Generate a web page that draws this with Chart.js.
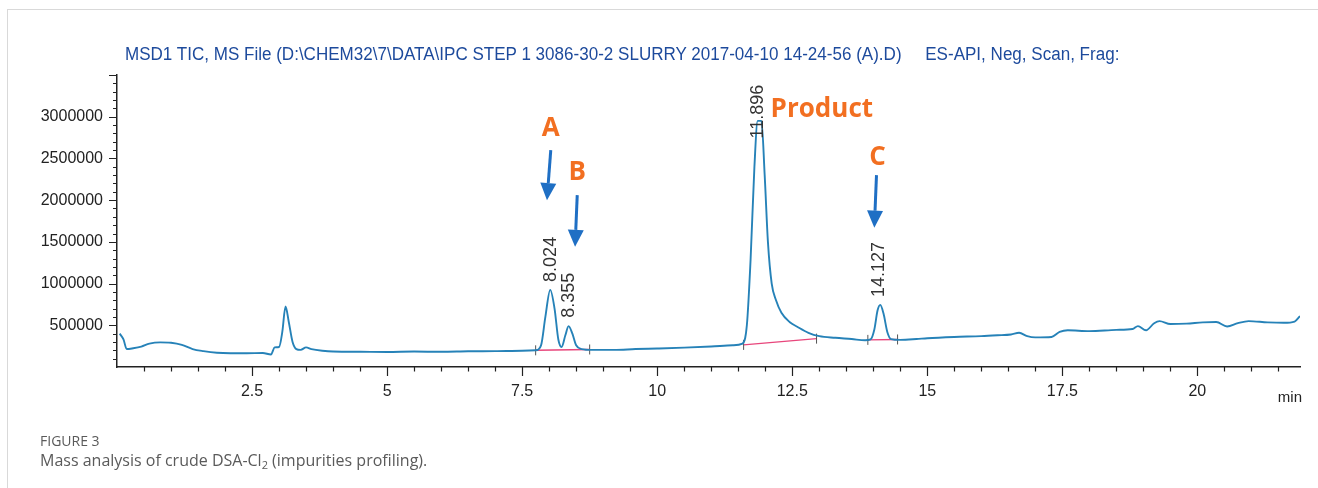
<!DOCTYPE html>
<html>
<head>
<meta charset="utf-8">
<script src="https://cdn.jsdelivr.net/npm/chart.js@4.4.1/dist/chart.umd.min.js"></script>
<style>
    html, body { margin: 0; padding: 0; background: #fff; }
    body { width: 1318px; height: 488px; position: relative; overflow: hidden; }
    .card { position: absolute; left: 7px; top: 9px; width: 1340px; height: 520px;
            border-top: 1px solid #d9d9d9; border-left: 1px solid #d9d9d9; }
    #chart { position: absolute; left: 0; top: 0; }
    .run-title { position: absolute; left: 125px; top: 44px; white-space: pre;
                 font-family: 'Liberation Sans Narrow', 'Liberation Sans', Arial, sans-serif;
                 font-size: 18px; color: #1d4a9c; transform-origin: 0 0; }
    .fig-label { position: absolute; left: 40px; top: 431px; font-family: 'Open Sans', sans-serif;
                 font-size: 14px; color: #5a5a5a; }
    .fig-caption { position: absolute; left: 40px; top: 449px; font-family: 'Open Sans', sans-serif;
                   font-size: 16px; color: #5a5a5a; white-space: nowrap; }
    .fig-caption sub { font-size: 11px; vertical-align: -3px; }
</style>
</head>
<body>
<div class="card"></div>
<canvas id="chart" width="1318" height="488"></canvas>
<div class="run-title" id="runTitle">MSD1 TIC, MS File (D:\CHEM32\7\DATA\IPC STEP 1 3086-30-2 SLURRY 2017-04-10 14-24-56 (A).D)     ES-API, Neg, Scan, Frag:</div>
<div class="fig-label">FIGURE 3</div>
<div class="fig-caption">Mass analysis of crude DSA-Cl<sub>2</sub> (impurities profiling).</div>

<script>
// TIC trace (time in min, abundance)
const retentionTimes = [
    0.05, 0.12, 0.18, 0.3, 0.45, 0.6, 0.8, 1.0, 1.2, 1.4, 1.6, 1.85, 2.1, 2.4, 2.7, 2.85, 2.92, 3.0,
    3.06, 3.12, 3.18, 3.25, 3.32, 3.4, 3.5, 3.6, 3.8, 4.0, 4.5, 5.0, 5.5, 6.0, 6.5, 7.0, 7.5, 7.75,
    7.85, 7.93, 8.02, 8.1, 8.17, 8.23, 8.3, 8.36, 8.43, 8.5, 8.6, 8.8, 9.2, 9.6, 10.0, 10.5, 11.0,
    11.4, 11.58, 11.66, 11.73, 11.8, 11.86, 11.93, 11.99, 12.05, 12.12, 12.2, 12.3, 12.45, 12.6,
    12.8, 13.0, 13.3, 13.6, 13.85, 13.95, 14.02, 14.08, 14.13, 14.19, 14.26, 14.33, 14.5, 14.8,
    15.0, 15.5, 16.0, 16.3, 16.55, 16.7, 16.85, 17.0, 17.3, 17.45, 17.6, 18.0, 18.5, 18.8, 18.9,
    19.05, 19.2, 19.3, 19.5, 19.8, 20.1, 20.35, 20.55, 20.75, 20.95, 21.3, 21.6, 21.8, 21.9
];
const intensities = [
    400000, 330000, 215000, 225000, 245000, 280000, 295000, 290000, 265000, 215000, 190000, 170000, 165000, 165000, 168000, 150000, 235000, 240000,
    420000, 725000, 540000, 300000, 215000, 205000, 235000, 215000, 195000, 185000, 182000, 180000, 185000, 182000, 188000, 190000, 195000, 200000,
    260000, 600000, 925000, 700000, 330000, 240000, 380000, 490000, 400000, 260000, 215000, 205000, 205000, 215000, 222000, 232000, 245000,
    260000, 280000, 500000, 1300000, 2400000, 2950000, 2950000, 2300000, 1500000, 1000000, 800000, 650000, 540000, 480000,
    410000, 370000, 350000, 335000, 320000, 330000, 450000, 680000, 745000, 640000, 420000, 335000, 325000, 335000,
    345000, 360000, 370000, 380000, 390000, 410000, 370000, 355000, 360000, 420000, 440000, 430000, 445000, 455000, 490000,
    440000, 525000, 550000, 515000, 520000, 535000, 540000, 485000, 525000, 550000, 535000, 530000, 545000, 610000
];

// integration baselines (pink)
const baseStartX = [7.75, 11.6, 13.9];
const baseStartY = [200000, 265000, 325000];
const baseEndX = [8.75, 12.95, 14.45];
const baseEndY = [210000, 340000, 330000];

// retention time labels above the peaks
const peakLabels = ['8.024', '8.355', '11.896', '14.127'];
const peakLabelX = [8.04, 8.36, 11.86, 14.10];
const peakLabelY = [1020000, 590000, 2740000, 840000];

// orange annotations
const markerNames = ['A', 'B', 'Product', 'C'];
const markerX = [8.03, 8.52, 12.10, 14.08];
const markerY = [2860000, 2330000, 3090000, 2510000];

// blue arrows (A, B, C)
const arrowTopX = [8.03, 8.52, 14.06];
const arrowTopY = [2600000, 2060000, 2300000];
const arrowTipX = [7.96, 8.48, 14.02];
const arrowTipY = [2000000, 1440000, 1670000];

const xTickLabels = ['2.5', '5', '7.5', '10', '12.5', '15', '17.5', '20'];
const yTickLabels = ['500000', '1000000', '1500000', '2000000', '2500000', '3000000'];

const axisFont = "'Liberation Sans', Arial, sans-serif";

// fit the run title to its width in the picture
const runTitle = document.getElementById('runTitle');
runTitle.style.transform = 'scaleX(' + (994 / runTitle.offsetWidth) + ')';

/**
 * Axis tick marks, major and minor
 */
const tickMarks = {
    id: 'tickMarks',
    afterDraw(chart) {
        const { ctx, chartArea } = chart;
        const xs = chart.scales.x;
        const ys = chart.scales.y;
        ctx.save();
        ctx.strokeStyle = '#222';
        ctx.lineWidth = 1.2;
        ctx.beginPath();
        for (let v = 0.5; v <= xs.max + 1e-9; v += 0.5) {
            const major = Math.abs(v / 2.5 - Math.round(v / 2.5)) < 1e-6;
            const px = Math.round(xs.getPixelForValue(v)) + 0.5;
            ctx.moveTo(px, chartArea.bottom);
            ctx.lineTo(px, chartArea.bottom + (major ? 9 : 4.5));
        }
        for (let v = 100000; v <= ys.max; v += 100000) {
            const major = v % 500000 === 0;
            const py = Math.round(ys.getPixelForValue(v)) + 0.5;
            ctx.moveTo(chartArea.left - (major ? 8 : 4), py);
            ctx.lineTo(chartArea.left, py);
        }
        ctx.stroke();

        ctx.fillStyle = '#222';
        ctx.font = '15px ' + axisFont;
        ctx.textAlign = 'right';
        ctx.textBaseline = 'middle';
        ctx.fillText('min', chartArea.right + 2, chartArea.bottom + 31);
        ctx.restore();
    }
};

/**
 * Peak labels, letters and arrows
 */
const annotations = {
    id: 'annotations',
    afterDatasetsDraw(chart) {
        const { ctx } = chart;
        const xs = chart.scales.x;
        const ys = chart.scales.y;
        ctx.save();

        ctx.fillStyle = '#333';
        ctx.font = '18px ' + axisFont;
        ctx.textAlign = 'left';
        ctx.textBaseline = 'middle';
        peakLabels.forEach((label, i) => {
            ctx.save();
            ctx.translate(xs.getPixelForValue(peakLabelX[i]), ys.getPixelForValue(peakLabelY[i]));
            ctx.rotate(-Math.PI / 2);
            ctx.fillText(label, 0, 0);
            ctx.restore();
        });

        ctx.fillStyle = '#f26f21';
        ctx.font = "bold 26px 'Open Sans', sans-serif";
        markerNames.forEach((name, i) => {
            ctx.textAlign = name === 'Product' ? 'left' : 'center';
            ctx.fillText(name, xs.getPixelForValue(markerX[i]), ys.getPixelForValue(markerY[i]));
        });

        ctx.strokeStyle = '#1f6fc4';
        ctx.fillStyle = '#1f6fc4';
        ctx.lineWidth = 3;
        arrowTopX.forEach((t, i) => {
            const x0 = xs.getPixelForValue(t);
            const y0 = ys.getPixelForValue(arrowTopY[i]);
            const x1 = xs.getPixelForValue(arrowTipX[i]);
            const y1 = ys.getPixelForValue(arrowTipY[i]);
            const ang = Math.atan2(y1 - y0, x1 - x0);
            const headLen = 17, headHalf = 8;
            const bx = x1 - headLen * Math.cos(ang);
            const by = y1 - headLen * Math.sin(ang);
            ctx.beginPath();
            ctx.moveTo(x0, y0);
            ctx.lineTo(bx, by);
            ctx.stroke();
            ctx.beginPath();
            ctx.moveTo(x1, y1);
            ctx.lineTo(bx + headHalf * Math.sin(ang), by - headHalf * Math.cos(ang));
            ctx.lineTo(bx - headHalf * Math.sin(ang), by + headHalf * Math.cos(ang));
            ctx.closePath();
            ctx.fill();
        });
        ctx.restore();
    }
};

const traceData = retentionTimes.map((t, i) => ({ x: t, y: intensities[i] }));

const baselineSets = baseStartX.map((x0, i) => ({
    data: [{ x: x0, y: baseStartY[i] }, { x: baseEndX[i], y: baseEndY[i] }],
    borderColor: '#e8467c',
    borderWidth: 1.4,
    pointStyle: 'line',
    pointRotation: 90,
    pointRadius: 5,
    pointBorderColor: '#555',
    pointBorderWidth: 1,
    order: 2
}));

new Chart(document.getElementById('chart'), {
    type: 'line',
    data: {
        datasets: [{
            data: traceData,
            borderColor: '#2682b8',
            borderWidth: 1.9,
            pointRadius: 0,
            cubicInterpolationMode: 'monotone',
            fill: false,
            order: 1
        }].concat(baselineSets)
    },
    options: {
        responsive: false,
        animation: false,
        layout: { padding: { left: 0, top: 75, right: 18, bottom: 81 } },
        plugins: {
            legend: { display: false },
            tooltip: { enabled: false }
        },
        scales: {
            x: {
                type: 'linear',
                min: 0,
                max: 21.9,
                border: { color: '#222', width: 1.5 },
                grid: { drawOnChartArea: false, drawTicks: true, tickLength: 9, tickColor: 'transparent' },
                ticks: {
                    stepSize: 0.5,
                    autoSkip: false,
                    maxRotation: 0,
                    padding: 6,
                    color: '#222',
                    font: { family: axisFont, size: 16 },
                    callback: v => xTickLabels.includes(String(v)) ? String(v) : ''
                },
                afterFit: s => { s.height = 40; }
            },
            y: {
                min: 0,
                max: 3500000,
                border: { color: '#222', width: 1.5 },
                grid: { drawOnChartArea: false, drawTicks: true, tickLength: 8, tickColor: 'transparent' },
                ticks: {
                    stepSize: 500000,
                    autoSkip: false,
                    padding: 6,
                    color: '#222',
                    font: { family: axisFont, size: 16 },
                    callback: v => yTickLabels.includes(String(v)) ? String(v) : ''
                },
                afterFit: s => { s.width = 117; }
            }
        }
    },
    plugins: [tickMarks, annotations]
});
</script>
</body>
</html>
